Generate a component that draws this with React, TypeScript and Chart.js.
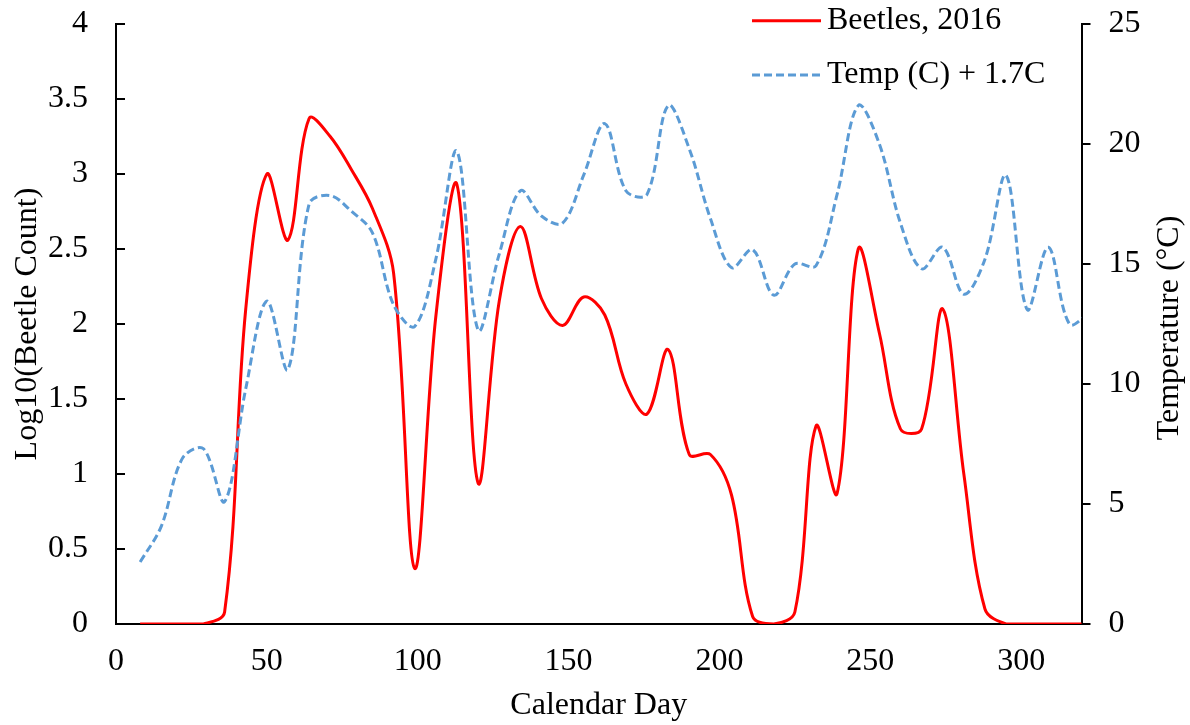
import React, { useEffect, useRef } from "react";
import { Chart, registerables } from "chart.js";

Chart.register(...registerables);

// Calendar day of each weekly sample
const days = [8, 15, 22, 29, 36, 43, 50, 57, 64, 71, 78, 85, 92, 99, 106, 113, 120, 127, 134, 141, 148, 155, 162, 169, 176, 183, 190, 197, 204, 211, 218, 225, 232, 239, 246, 253, 260, 267, 274, 281, 288, 295, 302, 309, 316, 323];

// Log10(Beetle Count), 2016
const beetles = [0, 0, 0, 0, 0.08, 2.1, 3.0, 2.56, 3.37, 3.25, 3.03, 2.77, 2.34, 0.37, 2.05, 2.93, 0.94, 2.15, 2.65, 2.17, 1.99, 2.18, 2.06, 1.6, 1.4, 1.83, 1.13, 1.13, 0.86, 0.05, 0, 0.08, 1.32, 0.87, 2.5, 1.94, 1.3, 1.3, 2.1, 1.0, 0.1, 0, 0, 0, 0, 0];

// Temperature (C) + 1.7C
const temp = [2.58, 4.07, 6.9, 7.3, 5.1, 9.8, 13.45, 10.6, 17.5, 17.85, 17.2, 16.3, 13.3, 12.4, 15.2, 19.7, 12.25, 15.4, 18.05, 17.0, 16.7, 18.7, 20.85, 18.05, 17.9, 21.6, 19.8, 16.9, 14.85, 15.6, 13.7, 15.0, 14.93, 17.9, 21.6, 20.0, 16.7, 14.8, 15.7, 13.74, 15.2, 18.7, 13.1, 15.7, 12.5, 13.0];

const xTicks = [0, 50, 100, 150, 200, 250, 300];
const leftTicks = [0, 0.5, 1, 1.5, 2, 2.5, 3, 3.5, 4];
const rightTicks = [0, 5, 10, 15, 20, 25];

const seriesNames = ["Beetles, 2016", "Temp (C) + 1.7C"];
const axisTitles = { x: "Calendar Day", left: "Log10(Beetle Count)", right: "Temperature (°C)" };

const FONT = "'Liberation Serif', 'Times New Roman', serif";
const RED = "#FF0000";
const BLUE = "#5B9BD5";

const overlayPlugin = {
  id: "overlay",
  afterDraw(chart: any) {
    const { ctx, chartArea } = chart;
    ctx.save();
    ctx.font = `32px ${FONT}`;
    ctx.fillStyle = "#000";
    // right axis title, reading bottom-to-top
    ctx.save();
    ctx.translate(1170, (chartArea.top + chartArea.bottom) / 2 + 4);
    ctx.rotate(-Math.PI / 2);
    ctx.textAlign = "center";
    ctx.textBaseline = "middle";
    ctx.fillText(axisTitles.right, 0, 0);
    ctx.restore();
    // legend
    const rows = [
      { y: 20.7, color: RED, dash: [] as number[] },
      { y: 75, color: BLUE, dash: [8, 4] },
    ];
    rows.forEach((r, i) => {
      ctx.save();
      ctx.strokeStyle = r.color;
      ctx.lineWidth = 3;
      ctx.setLineDash(r.dash);
      ctx.beginPath();
      ctx.moveTo(752, r.y);
      ctx.lineTo(821, r.y);
      ctx.stroke();
      ctx.restore();
      ctx.textAlign = "left";
      ctx.textBaseline = "middle";
      ctx.fillText(seriesNames[i], 827, r.y);
    });
    ctx.restore();
  },
};

const noPad = (s: any) => {
  s.paddingTop = 0;
  s.paddingBottom = 0;
  s.paddingLeft = 0;
  s.paddingRight = 0;
};

export default function App() {
  const ref = useRef<HTMLCanvasElement | null>(null);
  useEffect(() => {
    document.body.style.margin = "0";
    const canvas = ref.current!;
    const chart = new Chart(canvas, {
      type: "line",
      data: {
        datasets: [
          {
            label: seriesNames[0],
            data: days.map((d, i) => ({ x: d, y: beetles[i] })),
            borderColor: RED,
            backgroundColor: RED,
            borderWidth: 3,
            pointRadius: 0,
            tension: 0.35,
            yAxisID: "y",
            order: 1,
          },
          {
            label: seriesNames[1],
            data: days.map((d, i) => ({ x: d, y: temp[i] })),
            borderColor: BLUE,
            backgroundColor: BLUE,
            borderWidth: 3,
            borderDash: [8, 4],
            pointRadius: 0,
            tension: 0.35,
            yAxisID: "y1",
            order: 0,
          },
        ],
      },
      options: {
        responsive: false,
        animation: false,
        layout: { padding: { top: 24, left: 0, right: 0, bottom: 0 } },
        font: { family: FONT, size: 32 },
        plugins: { legend: { display: false }, tooltip: { enabled: false } },
        scales: {
          x: {
            type: "linear",
            min: 0,
            max: 320,
            afterBuildTicks: (s: any) => { s.ticks = xTicks.map((v) => ({ value: v })); },
            ticks: { autoSkip: false, maxRotation: 0, color: "#000", font: { family: FONT, size: 32 }, padding: 18, callback: (v: any) => String(v) },
            grid: { display: false, drawTicks: false },
            border: { display: true, color: "#000", width: 2 },
            title: { display: true, text: axisTitles.x, color: "#000", font: { family: FONT, size: 32 }, padding: { top: 0, bottom: 0 } },
            afterFit: (s: any) => { s.height = 101; noPad(s); },
          },
          y: {
            type: "linear",
            position: "left",
            min: 0,
            max: 4,
            afterBuildTicks: (s: any) => { s.ticks = leftTicks.map((v) => ({ value: v })); },
            ticks: { color: "#000", font: { family: FONT, size: 32 }, padding: 37, callback: (v: any) => String(v) },
            grid: { display: true, drawOnChartArea: false, drawTicks: true, tickLength: -9, color: "#000", lineWidth: 2 },
            border: { display: true, color: "#000", width: 2 },
            title: { display: true, text: axisTitles.left, color: "#000", font: { family: FONT, size: 32 }, padding: { top: 8, bottom: 0 } },
            afterFit: (s: any) => { s.width = 116; noPad(s); },
          },
          y1: {
            type: "linear",
            position: "right",
            min: 0,
            max: 25,
            afterBuildTicks: (s: any) => { s.ticks = rightTicks.map((v) => ({ value: v })); },
            ticks: { color: "#000", font: { family: FONT, size: 32 }, padding: 18, callback: (v: any) => String(v) },
            grid: { display: true, drawOnChartArea: false, drawTicks: true, tickLength: 9, color: "#000", lineWidth: 2 },
            border: { display: true, color: "#000", width: 2 },
            title: { display: false },
            afterFit: (s: any) => { s.width = 108.5; noPad(s); },
          },
        },
      },
      plugins: [overlayPlugin],
    } as any);
    return () => chart.destroy();
  }, []);
  return (
    <div style={{ width: 1190, height: 725, background: "#fff" }}>
      <canvas ref={ref} width={1190} height={725} style={{ display: "block" }} />
    </div>
  );
}
